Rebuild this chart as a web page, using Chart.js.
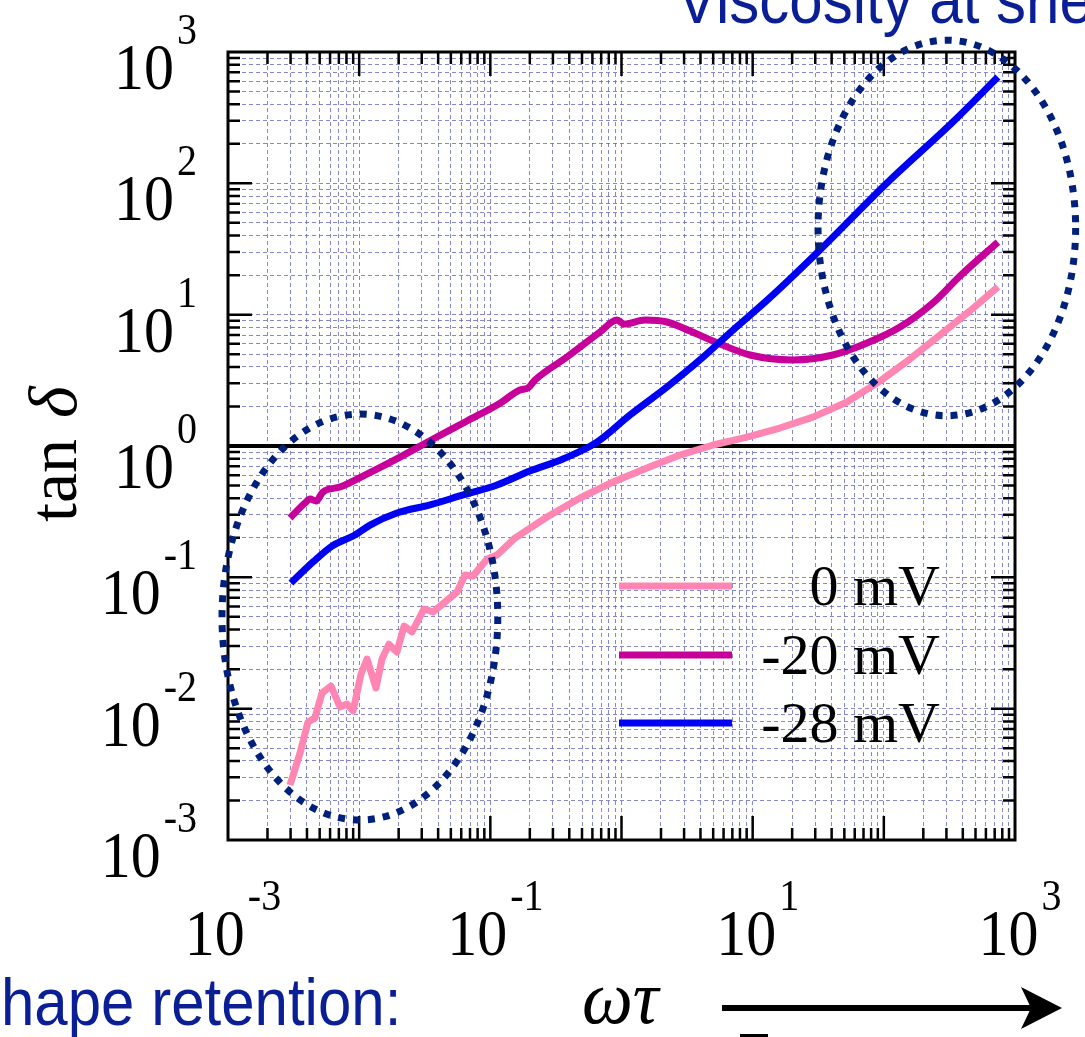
<!DOCTYPE html>
<html>
<head>
<meta charset="utf-8">
<script src="https://cdn.jsdelivr.net/npm/chart.js@4.4.0/dist/chart.umd.min.js"></script>
<style>
  html, body { margin: 0; padding: 0; background: #fff; overflow: hidden; }
  #wrap { position: relative; width: 1085px; height: 1037px; }
</style>
</head>
<body>
<div id="wrap"><canvas id="c" width="1085" height="1037"></canvas></div>
<script>
// Loss tangent tan δ versus reduced frequency ωτ for three zeta potentials.

// 0 mV
const wt0 = [0.00297, 0.00354, 0.00407, 0.00460, 0.00521, 0.00610, 0.00714, 0.00807, 0.00898, 0.01033,
             0.01148, 0.01343, 0.01493, 0.01686, 0.0194, 0.0220, 0.0253, 0.0312, 0.0366, 0.0451,
             0.0557, 0.0641, 0.0738, 0.0944, 0.1125, 0.154, 0.270, 0.483, 0.861, 1.563,
             2.79, 4.99, 9.06, 16.1, 28.8, 52.4, 93.5, 158, 268, 454, 741];
const tan0 = [0.00262, 0.00459, 0.00791, 0.00849, 0.01316, 0.01486, 0.01030, 0.01084, 0.00960, 0.01836,
              0.02388, 0.01436, 0.02388, 0.0310, 0.0270, 0.0426, 0.0384, 0.0574, 0.0545, 0.0649,
              0.0773, 0.1042, 0.1023, 0.138, 0.148, 0.199, 0.288, 0.402, 0.532, 0.680,
              0.853, 1.018, 1.17, 1.37, 1.66, 2.16, 3.12, 4.59, 7.00, 10.7, 16.3];

// -20 mV
const wt20 = [0.00297, 0.00386, 0.00422, 0.00469, 0.00530, 0.00714, 0.01106, 0.0205, 0.0366, 0.0664,
              0.1186, 0.168, 0.194, 0.219, 0.384, 0.686, 0.925, 1.045, 1.51, 2.22,
              3.33, 5.64, 9.55, 20.3, 40.9, 74.5, 132.8, 237, 381, 741];
const tan20 = [0.283, 0.368, 0.395, 0.381, 0.447, 0.487, 0.601, 0.824, 1.13, 1.55,
               2.12, 2.67, 2.77, 3.18, 4.76, 7.38, 9.10, 8.49, 9.10, 8.79,
               7.51, 5.98, 4.93, 4.52, 4.93, 6.08, 8.05, 12.3, 19.7, 35.7];

// -28 mV
const wt28 = [0.00302, 0.00445, 0.00621, 0.00929, 0.0121, 0.0194, 0.0347, 0.0620, 0.1125, 0.200,
              0.358, 0.650, 1.16, 2.22, 3.96, 7.08, 12.9, 32.6, 105.7, 336, 741];
const tan28 = [0.0906, 0.131, 0.173, 0.210, 0.250, 0.309, 0.356, 0.424, 0.505, 0.645,
               0.796, 1.07, 1.72, 2.81, 4.52, 7.64, 12.9, 31.1, 100.7, 293, 645];

const seriesLabels = ['0 mV', '-20 mV', '-28 mV'];
const seriesColors = ['#ff86b3', '#c8009a', '#0000f5'];

// decade exponents that carry tick labels
const xLabelExps = [-3, -1, 1, 3];
const yLabelExps = [3, 2, 1, 0, -1, -2, -3];
const axisMin = 1e-3, axisMax = 1e3;
const unityLine = 1;

// annotation ellipses, given as data-space bounding boxes
const lowFreqBox = { x0: 0.0009, x1: 0.114, y0: 0.00142, y1: 1.75 };
const highFreqBox = { x0: 31.5, x1: 2900, y0: 1.7, y1: 1230 };

// gridline positions: 1..9 × 10^n
const gridVals = [];
for (let e = -3; e < 3; e++) for (let s = 1; s <= 9; s++) gridVals.push({ v: s * Math.pow(10, e), major: s === 1 });
gridVals.push({ v: 1000, major: true });

const pts = (xs, ys) => xs.map((x, i) => ({ x: x, y: ys[i] }));

const SERIF = '"Liberation Serif", "Times New Roman", serif';
const SANS = '"Liberation Sans", Arial, sans-serif';
const NAVY = '#0a1f96';
const DOTS = '#00207c';

function stretchedText(ctx, str, x, y, font, sy) {
  ctx.save();
  ctx.translate(x, y);
  ctx.scale(1, sy);
  ctx.font = font;
  ctx.textAlign = 'left';
  ctx.textBaseline = 'alphabetic';
  ctx.fillText(str, 0, 0);
  ctx.restore();
}

function powerLabel(ctx, exp, ax, baseY, anchor) {
  const mainFont = '60px ' + SERIF, supFont = '40px ' + SERIF;
  const supStr = exp < 0 ? '-' + Math.abs(exp) : String(exp);
  ctx.font = mainFont; const wMain = ctx.measureText('10').width;
  ctx.font = supFont; const wSup = ctx.measureText(supStr).width;
  const gap = 3;
  const total = wMain + gap + wSup;
  const x0 = anchor === 'right' ? ax - total : ax - total / 2;
  ctx.fillStyle = '#000';
  stretchedText(ctx, '10', x0, baseY, mainFont, 1.1);
  stretchedText(ctx, supStr, x0 + wMain + gap, baseY - 45, supFont, 1.1);
}

function boxEllipse(ctx, xs, ys, box) {
  const l = xs.getPixelForValue(box.x0), r = xs.getPixelForValue(box.x1);
  const t = ys.getPixelForValue(box.y1), b = ys.getPixelForValue(box.y0);
  ctx.beginPath();
  ctx.ellipse((l + r) / 2, (t + b) / 2, (r - l) / 2, (b - t) / 2, 0, 0, Math.PI * 2);
  ctx.stroke();
}

const decor = {
  id: 'decor',
  beforeDatasetsDraw(chart) {
    const { ctx, chartArea: a, scales: { y } } = chart;
    const py = y.getPixelForValue(unityLine);
    ctx.save();
    ctx.strokeStyle = '#000';
    ctx.lineWidth = 4;
    ctx.beginPath(); ctx.moveTo(a.left, py); ctx.lineTo(a.right, py); ctx.stroke();
    ctx.restore();
  },
  afterDatasetsDraw(chart) {
    const { ctx, chartArea: a, scales: { x, y } } = chart;
    ctx.save();

    // inward tick marks on all four sides
    ctx.strokeStyle = '#000';
    ctx.lineWidth = 2.5;
    ctx.beginPath();
    gridVals.forEach(g => {
      const len = g.major ? 24 : 12;
      const px = x.getPixelForValue(g.v);
      if (px > a.left + 1 && px < a.right - 1) {
        ctx.moveTo(px, a.bottom); ctx.lineTo(px, a.bottom - len);
        ctx.moveTo(px, a.top); ctx.lineTo(px, a.top + len);
      }
      const py = y.getPixelForValue(g.v);
      if (py > a.top + 1 && py < a.bottom - 1) {
        ctx.moveTo(a.left, py); ctx.lineTo(a.left + len, py);
        ctx.moveTo(a.right, py); ctx.lineTo(a.right - len, py);
      }
    });
    ctx.stroke();

    // frame
    ctx.lineWidth = 3;
    ctx.strokeRect(a.left, a.top, a.right - a.left, a.bottom - a.top);

    // tick labels
    yLabelExps.forEach(e => powerLabel(ctx, e, a.left - 31, y.getPixelForValue(Math.pow(10, e)) + (e === 0 ? 42 : 37), 'right'));
    xLabelExps.forEach(e => powerLabel(ctx, e, x.getPixelForValue(Math.pow(10, e)) + 5, a.bottom + 115, 'center'));

    // legend
    const legendY = [a.top + 534, a.top + 603, a.top + 671];
    chart.data.datasets.forEach((ds, i) => {
      ctx.strokeStyle = ds.borderColor;
      ctx.lineWidth = 7;
      ctx.beginPath();
      ctx.moveTo(a.left + 391, legendY[i]);
      ctx.lineTo(a.left + 504, legendY[i]);
      ctx.stroke();
      ctx.fillStyle = '#000';
      ctx.font = '58px ' + SERIF;
      ctx.textAlign = 'right';
      ctx.textBaseline = 'alphabetic';
      ctx.fillText(ds.label, a.left + 712, legendY[i] + 19);
    });

    // dotted ellipses marking the two frequency regions
    ctx.strokeStyle = DOTS;
    ctx.lineWidth = 7;
    ctx.setLineDash([7, 8]);
    boxEllipse(ctx, x, y, lowFreqBox);
    boxEllipse(ctx, x, y, highFreqBox);
    ctx.setLineDash([]);

    // y-axis title
    ctx.save();
    ctx.translate(76, 522);
    ctx.rotate(-Math.PI / 2);
    ctx.fillStyle = '#000';
    ctx.textAlign = 'left';
    ctx.textBaseline = 'alphabetic';
    ctx.font = '68px ' + SERIF;
    ctx.fillText('tan ', 0, 0);
    const wTan = ctx.measureText('tan ').width;
    ctx.font = 'italic 68px ' + SERIF;
    ctx.fillText('δ', wTan + 4, 0);
    ctx.restore();

    // x-axis title with direction arrow
    ctx.fillStyle = '#000';
    ctx.textAlign = 'left';
    stretchedText(ctx, 'ωτ', 582, 1023, 'italic 72px ' + SERIF, 1.05);
    ctx.strokeStyle = '#000';
    ctx.lineWidth = 6;
    ctx.beginPath(); ctx.moveTo(722, 1008); ctx.lineTo(1035, 1008); ctx.stroke();
    ctx.beginPath();
    ctx.moveTo(1062, 1008); ctx.lineTo(1021, 987); ctx.lineTo(1031, 1008); ctx.lineTo(1021, 1029);
    ctx.closePath(); ctx.fill();
    ctx.fillRect(740, 1034, 28, 3);

    // region captions
    ctx.fillStyle = NAVY;
    stretchedText(ctx, 'Viscosity at she', 677, 23, '60px ' + SANS, 1.1);
    stretchedText(ctx, 'hape retention:', 1, 1025, '60px ' + SANS, 1.12);

    ctx.restore();
  }
};

const gridColor = 'rgba(95, 95, 185, 0.75)';

new Chart(document.getElementById('c'), {
  type: 'line',
  data: {
    datasets: [
      { label: seriesLabels[0], data: pts(wt0, tan0), borderColor: seriesColors[0], order: 3, tension: 0 },
      { label: seriesLabels[1], data: pts(wt20, tan20), borderColor: seriesColors[1], order: 2, cubicInterpolationMode: 'monotone' },
      { label: seriesLabels[2], data: pts(wt28, tan28), borderColor: seriesColors[2], order: 1, cubicInterpolationMode: 'monotone' }
    ].map(d => Object.assign({ borderWidth: 7, pointRadius: 0, fill: false, borderJoinStyle: 'round', borderCapStyle: 'butt' }, d))
  },
  options: {
    responsive: false,
    animation: false,
    events: [],
    layout: { padding: { left: 228, right: 70, top: 52, bottom: 197 } },
    plugins: { legend: { display: false }, tooltip: { enabled: false } },
    scales: {
      x: {
        type: 'logarithmic', min: axisMin, max: axisMax,
        afterBuildTicks: s => { s.ticks = gridVals.map(g => ({ value: g.v, major: g.major })); },
        afterFit: s => { s.height = 0; },
        ticks: { display: false, autoSkip: false },
        grid: { color: gridColor, lineWidth: 1, drawTicks: false },
        border: { display: false, dash: [4, 3] }
      },
      y: {
        type: 'logarithmic', min: axisMin, max: axisMax,
        afterBuildTicks: s => { s.ticks = gridVals.map(g => ({ value: g.v, major: g.major })); },
        afterFit: s => { s.width = 0; },
        ticks: { display: false, autoSkip: false },
        grid: { color: gridColor, lineWidth: 1, drawTicks: false },
        border: { display: false, dash: [4, 3] }
      }
    }
  },
  plugins: [decor]
});
</script>
</body>
</html>
